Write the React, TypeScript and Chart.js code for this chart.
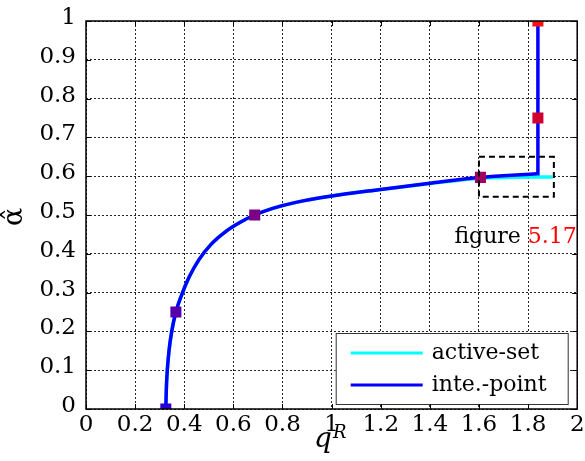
import React, { useEffect, useRef } from 'react';
import { Chart, registerables } from 'chart.js';

Chart.register(...registerables);

// ---- data ----
const interiorX = [0.325, 0.327, 0.331, 0.338, 0.349, 0.366, 0.39, 0.42, 0.46, 0.51, 0.57, 0.63, 0.687, 0.76, 0.85, 1.0, 1.2, 1.4, 1.606, 1.75, 1.837];
const interiorY = [0, 0.05, 0.1, 0.15, 0.2, 0.25, 0.295, 0.34, 0.385, 0.425, 0.458, 0.482, 0.5, 0.517, 0.532, 0.549, 0.566, 0.582, 0.597, 0.603, 0.606];
const interiorVertX = [1.837, 1.84, 1.84];
const interiorVertY = [0.606, 0.75, 1.0];
const activeX = [0.325, 0.327, 0.331, 0.338, 0.349, 0.366, 0.39, 0.42, 0.46, 0.51, 0.57, 0.63, 0.687, 0.76, 0.85, 1.0, 1.2, 1.4, 1.606, 1.75, 1.9];
const activeY = [0, 0.05, 0.1, 0.15, 0.2, 0.25, 0.295, 0.34, 0.385, 0.425, 0.458, 0.482, 0.5, 0.517, 0.532, 0.549, 0.566, 0.581, 0.595, 0.597, 0.598];
const markerX = [0.325, 0.366, 0.687, 1.606, 1.84, 1.84];
const markerY = [0, 0.25, 0.5, 0.597, 0.75, 1.0];
const markerColors = ['#2a00d5', '#5500aa', '#7a0085', '#a0005f', '#d00030', '#ff1010'];
const xTicks = [0, 0.2, 0.4, 0.6, 0.8, 1, 1.2, 1.4, 1.6, 1.8, 2];
const yTicks = [0, 0.1, 0.2, 0.3, 0.4, 0.5, 0.6, 0.7, 0.8, 0.9, 1];
const zoomBoxX = [1.6, 1.905];
const zoomBoxY = [0.547, 0.65];
const legendLabels = ['active-set', 'inte.-point'];
const legendColors = ['#00ffff', '#0000ff'];
const figureWord = 'figure';
const figureRef = '5.17';
const xTitle = 'q';
const xTitleSup = 'R';
const yTitle = 'α\u0302';

const SERIF = '"DejaVu Serif", serif';

const overlay = {
  id: 'overlay',
  afterDatasetsDraw(chart: any) {
    const { ctx, chartArea: a, scales } = chart;
    const x = scales.x;
    const y = scales.y;
    ctx.save();
    ctx.strokeStyle = '#000';
    ctx.lineWidth = 1;
    const line = (x1: number, y1: number, x2: number, y2: number) => {
      ctx.beginPath();
      ctx.moveTo(x1, y1);
      ctx.lineTo(x2, y2);
      ctx.stroke();
    };
    // zoom box
    const bx1 = x.getPixelForValue(zoomBoxX[0]);
    const bx2 = x.getPixelForValue(zoomBoxX[1]);
    const by1 = y.getPixelForValue(zoomBoxY[1]);
    const by2 = y.getPixelForValue(zoomBoxY[0]);
    ctx.setLineDash([6, 4]);
    ctx.lineWidth = 2;
    ctx.strokeRect(bx1, by1, bx2 - bx1, by2 - by1);
    ctx.setLineDash([]);

    // figure text
    ctx.font = `22px ${SERIF}`;
    ctx.textBaseline = 'alphabetic';
    ctx.textAlign = 'left';
    const tx = x.getPixelForValue(1.5);
    const ty = y.getPixelForValue(0.428);
    ctx.fillStyle = '#000';
    ctx.fillText(figureWord + ' ', tx, ty);
    const w = ctx.measureText(figureWord + ' ').width;
    ctx.fillStyle = '#ff0000';
    ctx.fillText(figureRef, tx + w, ty);

    // legend
    const lw = 233, lh = 72;
    const lx = a.right - 8.5 - lw;
    const ly = a.bottom - 4 - lh;
    ctx.fillStyle = '#fff';
    ctx.fillRect(lx, ly, lw, lh);
    ctx.strokeStyle = '#333';
    ctx.lineWidth = 1;
    ctx.strokeRect(lx + 0.5, ly + 0.5, lw - 1, lh - 1);
    legendLabels.forEach((lab, i) => {
      const cy = ly + 20 + i * 32;
      ctx.strokeStyle = legendColors[i];
      ctx.lineWidth = 3;
      line(lx + 15, cy, lx + 87, cy);
      ctx.fillStyle = '#000';
      ctx.textBaseline = 'middle';
      ctx.font = `22px ${SERIF}`;
      ctx.fillText(lab, lx + 96, cy);
    });

    // inward ticks
    ctx.strokeStyle = '#000';
    ctx.lineWidth = 1;
    xTicks.forEach((v) => {
      const px = Math.round(x.getPixelForValue(v)) + 0.5;
      line(px, a.bottom, px, a.bottom - 5);
      line(px, a.top, px, a.top + 5);
    });
    yTicks.forEach((v) => {
      const py = Math.round(y.getPixelForValue(v)) + 0.5;
      line(a.left, py, a.left + 5, py);
      line(a.right, py, a.right - 5, py);
    });

    // frame
    ctx.lineWidth = 1.5;
    ctx.strokeRect(a.left, a.top, a.right - a.left, a.bottom - a.top);
    ctx.restore();
  },
  afterDraw(chart: any) {
    const { ctx, chartArea: a } = chart;
    ctx.save();
    ctx.fillStyle = '#000';
    // y title
    ctx.translate(15, (a.top + a.bottom) / 2 + 2);
    ctx.rotate(-Math.PI / 2);
    ctx.font = `27px ${SERIF}`;
    ctx.textAlign = 'center';
    ctx.textBaseline = 'middle';
    ctx.fillText(yTitle, 0, 0);
    ctx.restore();
    // x title
    ctx.save();
    ctx.fillStyle = '#000';
    ctx.font = `italic 28px ${SERIF}`;
    ctx.textAlign = 'left';
    ctx.textBaseline = 'alphabetic';
    const qx = 314;
    ctx.fillText(xTitle, qx, 447);
    const qw = ctx.measureText(xTitle).width;
    ctx.font = `italic 18px ${SERIF}`;
    ctx.fillText(xTitleSup, qx + qw + 1, 438);
    ctx.restore();
  },
};

const lineDs = (label: string, xs: number[], ys: number[], color: string, order: number, smooth: boolean) => ({
  label,
  data: xs.map((v, i) => ({ x: v, y: ys[i] })),
  showLine: true,
  borderColor: color,
  borderWidth: 3.5,
  pointRadius: 0,
  cubicInterpolationMode: smooth ? 'monotone' : 'default',
  tension: 0,
  order,
  clip: 4,
});

export default function App() {
  const ref = useRef<HTMLCanvasElement>(null);
  useEffect(() => {
    document.body.style.margin = '0';
    const canvas = ref.current!;
    const tickFont = { family: SERIF, size: 23 };
    const chart = new Chart(canvas, {
      type: 'scatter',
      data: {
        datasets: [
          {
            label: 'markers',
            data: markerX.map((v, i) => ({ x: v, y: markerY[i] })),
            pointStyle: 'rect',
            pointRadius: 7.8,
            pointBackgroundColor: markerColors,
            pointBorderColor: markerColors,
            pointBorderWidth: 0,
            showLine: false,
            order: 0,
            clip: 0,
          },
          lineDs(legendLabels[1], interiorX, interiorY, legendColors[1], 1, true),
          lineDs(legendLabels[1] + ' (vertical)', interiorVertX, interiorVertY, legendColors[1], 1, false),
          lineDs(legendLabels[0], activeX, activeY, legendColors[0], 2, true),
        ],
      },
      options: {
        animation: false,
        responsive: false,
        devicePixelRatio: 1,
        layout: { padding: { left: 0, right: 6.5, top: 21, bottom: 0 } },
        plugins: { legend: { display: false }, tooltip: { enabled: false } },
        scales: {
          x: {
            type: 'linear',
            min: 0,
            max: 2,
            afterBuildTicks: (s: any) => {
              s.ticks = xTicks.map((v) => ({ value: v }));
            },
            afterFit: (s: any) => {
              s.height = 52;
              s.paddingLeft = 0;
              s.paddingRight = 0;
            },
            ticks: {
              callback: (v: any) => String(v),
              font: tickFont,
              color: '#000',
              padding: 2,
              maxRotation: 0,
              autoSkip: false,
            },
            grid: { color: 'rgba(0,0,0,0.85)', lineWidth: 1, drawTicks: false },
            border: { display: false, dash: [2, 2] },
          },
          y: {
            type: 'linear',
            min: 0,
            max: 1,
            afterBuildTicks: (s: any) => {
              s.ticks = yTicks.map((v) => ({ value: v }));
            },
            afterFit: (s: any) => {
              s.width = 86;
              s.paddingTop = 0;
              s.paddingBottom = 0;
            },
            ticks: {
              callback: (v: any) => String(v),
              font: tickFont,
              color: '#000',
              padding: 10,
              labelOffset: -3,
              autoSkip: false,
            },
            grid: { color: 'rgba(0,0,0,0.85)', lineWidth: 1, drawTicks: false },
            border: { display: false, dash: [2, 2] },
          },
        },
      },
      plugins: [overlay],
    } as any);
    return () => chart.destroy();
  }, []);
  return (
    <div style={{ position: 'absolute', left: 0, top: 0, width: 585, height: 461 }}>
      <canvas ref={ref} width={585} height={461} />
    </div>
  );
}
